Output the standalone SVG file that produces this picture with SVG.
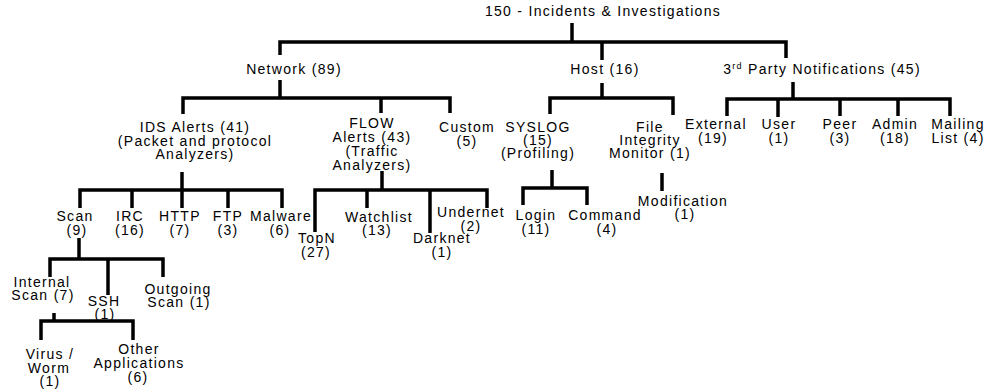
<svg xmlns="http://www.w3.org/2000/svg" width="990" height="391" viewBox="0 0 990 391">
<style>
text{font-family:"Liberation Sans",Arial,sans-serif;font-size:14px;letter-spacing:1.3px;text-anchor:middle;fill:#000}
.c path{fill:none;stroke:#000;stroke-width:3.5;stroke-linejoin:miter;stroke-linecap:butt}
</style>
<rect width="990" height="391" fill="#fff"/>
<g class="c" id="connectors">
<path d="M572 23V42"/>
<path d="M280 55V42H786V58"/>
<path d="M602 42V60"/>
<path d="M280 80V98"/>
<path d="M183 114V98H450V113"/>
<path d="M381 98V113"/>
<path d="M182 172V208"/>
<path d="M80 208V190H282V208"/>
<path d="M132 190V208"/>
<path d="M228 190V208"/>
<path d="M79 238V259"/>
<path d="M50 277V259H163V277"/>
<path d="M108 259V295"/>
<path d="M54 313V321"/>
<path d="M41 340V321H133V340"/>
<path d="M382 171V190"/>
<path d="M315 232V190H487V208"/>
<path d="M367 190V208"/>
<path d="M430 190V233"/>
<path d="M602 83V98"/>
<path d="M550 114V98H673V115"/>
<path d="M552 170V188"/>
<path d="M523 205V188H587V205"/>
<path d="M662 173V191"/>
<path d="M793 82V99"/>
<path d="M727 116V99H950V116"/>
<path d="M778 99V117"/>
<path d="M840 99V116"/>
<path d="M898 99V116"/>
</g>
<g id="root"><text x="603" y="16">150 - Incidents &amp; Investigations</text></g>
<g id="network"><text x="294" y="74">Network (89)</text></g>
<g id="host"><text x="605" y="74">Host (16)</text></g>
<g id="thirdparty"><text x="822" y="74">3<tspan font-size="9" dy="-5">rd</tspan><tspan dy="5"> Party Notifications (45)</tspan></text></g>
<g id="ids"><text x="195" y="132">IDS  Alerts (41)</text><text x="195" y="145.5">(Packet and protocol</text><text x="195" y="159">Analyzers)</text></g>
<g id="flow"><text x="372" y="128">FLOW</text><text x="372" y="142">Alerts (43)</text><text x="372" y="156">(Traffic</text><text x="372" y="170">Analyzers)</text></g>
<g id="custom"><text x="467" y="132">Custom</text><text x="467" y="146">(5)</text></g>
<g id="scan"><text x="75" y="221">Scan</text><text x="77" y="235">(9)</text></g>
<g id="irc"><text x="130" y="221">IRC</text><text x="130" y="235">(16)</text></g>
<g id="http"><text x="180" y="221">HTTP</text><text x="180" y="235">(7)</text></g>
<g id="ftp"><text x="228" y="221">FTP</text><text x="228" y="235">(3)</text></g>
<g id="malware"><text x="281" y="221">Malware</text><text x="280" y="235">(6)</text></g>
<g id="internal"><text x="42" y="287">Internal</text><text x="43" y="300">Scan (7)</text></g>
<g id="ssh"><text x="104" y="306">SSH</text><text x="105" y="319">(1)</text></g>
<g id="outgoing"><text x="178" y="294">Outgoing</text><text x="179" y="307">Scan (1)</text></g>
<g id="virus"><text x="50" y="359">Virus /</text><text x="49" y="373">Worm</text><text x="50" y="386">(1)</text></g>
<g id="other"><text x="139" y="354">Other</text><text x="139" y="368">Applications</text><text x="138" y="382">(6)</text></g>
<g id="topn"><text x="317" y="243">TopN</text><text x="316" y="257">(27)</text></g>
<g id="watchlist"><text x="379" y="222">Watchlist</text><text x="377" y="235">(13)</text></g>
<g id="darknet"><text x="442" y="243">Darknet</text><text x="442" y="257">(1)</text></g>
<g id="undernet"><text x="471" y="217">Undernet</text><text x="471" y="231">(2)</text></g>
<g id="syslog"><text x="538" y="132">SYSLOG</text><text x="538" y="145">(15)</text><text x="538" y="158">(Profiling)</text></g>
<g id="fim"><text x="650" y="132">File</text><text x="650" y="145">Integrity</text><text x="650" y="158">Monitor (1)</text></g>
<g id="login"><text x="536" y="220">Login</text><text x="536" y="234">(11)</text></g>
<g id="command"><text x="605" y="220">Command</text><text x="607" y="234">(4)</text></g>
<g id="modification"><text x="683" y="206">Modification</text><text x="685" y="219">(1)</text></g>
<g id="external"><text x="716" y="129">External</text><text x="713" y="143">(19)</text></g>
<g id="user"><text x="779" y="129">User</text><text x="779" y="143">(1)</text></g>
<g id="peer"><text x="840" y="129">Peer</text><text x="840" y="143">(3)</text></g>
<g id="admin"><text x="895" y="129">Admin</text><text x="895" y="143">(18)</text></g>
<g id="mailing"><text x="958" y="129">Mailing</text><text x="958" y="143">List (4)</text></g>
</svg>
